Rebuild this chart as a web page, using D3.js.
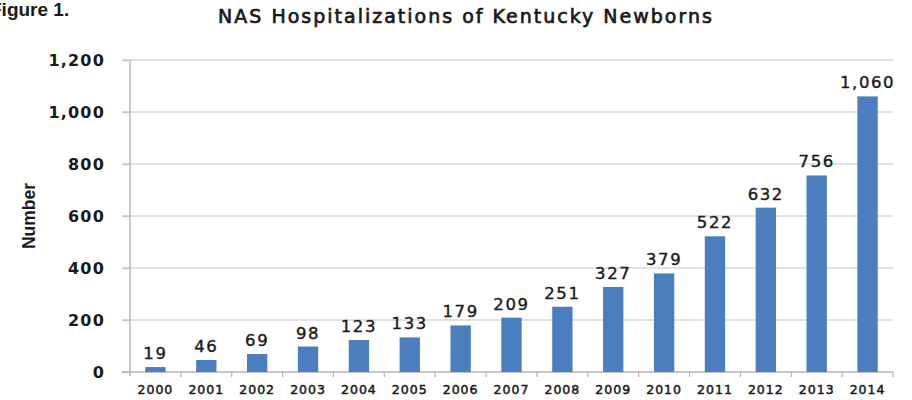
<!DOCTYPE html>
<html>
<head>
<meta charset="utf-8">
<script src="https://cdn.jsdelivr.net/npm/d3@7"></script>
<style>
  html, body { margin: 0; padding: 0; background: #fff; }
  svg { display: block; }
</style>
</head>
<body>
<svg id="chart" width="912" height="400"></svg>
<script>
// NAS hospitalizations of Kentucky newborns, by year
const years = ["2000","2001","2002","2003","2004","2005","2006","2007","2008","2009","2010","2011","2012","2013","2014"];
const hospitalizations = [19, 46, 69, 98, 123, 133, 179, 209, 251, 327, 379, 522, 632, 756, 1060];
const yTicks = [0, 200, 400, 600, 800, 1000, 1200];

const svg = d3.select("#chart");
const plot = { left: 130, right: 893, top: 60, bottom: 372 };

const x = d3.scaleBand()
  .domain(years)
  .range([plot.left, plot.right])
  .paddingInner(0.6)
  .paddingOuter(0.3);

const y = d3.scaleLinear()
  .domain([0, 1200])
  .range([plot.bottom, plot.top]);

const fmt = d3.format(",");
const textFont = "'DejaVu Sans', Verdana, sans-serif";
const narrowFont = "'Liberation Sans Narrow', 'Arial Narrow', sans-serif";
const ink = "#1a1a1a";

// Horizontal gridlines
svg.append("g")
  .selectAll("line")
  .data(yTicks.filter(d => d > 0))
  .join("line")
  .attr("x1", plot.left - 8)
  .attr("x2", plot.right)
  .attr("y1", d => y(d))
  .attr("y2", d => y(d))
  .attr("stroke", "#d9d9d9")
  .attr("stroke-width", 1.5);

// Y axis
const yAxis = svg.append("g")
  .attr("transform", `translate(${plot.left},0)`)
  .call(d3.axisLeft(y).tickValues(yTicks).tickFormat(fmt).tickSize(8).tickPadding(17));
yAxis.select(".domain").attr("stroke", "#a6a6a6").attr("stroke-width", 1.2)
  .attr("d", `M0,${plot.top}V${plot.bottom + 4}`);
yAxis.selectAll(".tick line").attr("stroke", "#c8c8c8").attr("stroke-width", 1.5);
yAxis.selectAll(".tick text")
  .attr("font-family", textFont)
  .attr("font-weight", "bold")
  .attr("font-size", 16)
  .attr("letter-spacing", 1.2)
  .attr("fill", ink)
  .attr("dy", "0.36em");

// X axis with tick marks on category boundaries
const xAxis = svg.append("g")
  .attr("transform", `translate(0,${plot.bottom})`);
xAxis.append("line")
  .attr("x1", plot.left - 8)
  .attr("x2", plot.right)
  .attr("stroke", "#b4b4b4")
  .attr("stroke-width", 1.5);
const boundaries = d3.range(1, years.length + 1)
  .map(i => plot.left + i * (plot.right - plot.left) / years.length);
xAxis.selectAll(".bt")
  .data(boundaries)
  .join("line")
  .attr("class", "bt")
  .attr("x1", d => d).attr("x2", d => d)
  .attr("y1", 0).attr("y2", 5)
  .attr("stroke", "#b4b4b4")
  .attr("stroke-width", 1.2);
xAxis.selectAll(".xl")
  .data(years)
  .join("text")
  .attr("class", "xl")
  .attr("x", d => x(d) + x.bandwidth() / 2)
  .attr("y", 22)
  .attr("text-anchor", "middle")
  .attr("font-family", textFont)
  .attr("font-size", 12.5)
  .attr("letter-spacing", 1)
  .attr("fill", ink)
  .attr("stroke", ink)
  .attr("stroke-width", 0.5)
  .text(d => d);

const rows = years.map((yr, i) => ({ yr, v: hospitalizations[i] }));

// Bars
svg.append("g")
  .selectAll("rect")
  .data(rows)
  .join("rect")
  .attr("x", d => x(d.yr))
  .attr("width", x.bandwidth())
  .attr("y", d => y(d.v))
  .attr("height", d => y(0) - y(d.v))
  .attr("fill", "#4a7ebf");

// Value labels
svg.append("g")
  .selectAll("text")
  .data(rows)
  .join("text")
  .attr("x", d => x(d.yr) + x.bandwidth() / 2)
  .attr("y", d => y(d.v) - 8)
  .attr("text-anchor", "middle")
  .attr("font-family", textFont)
  .attr("font-size", 16.5)
  .attr("letter-spacing", 1.6)
  .attr("fill", ink)
  .attr("stroke", ink)
  .attr("stroke-width", 0.4)
  .text(d => fmt(d.v));

// Title
svg.append("text")
  .attr("x", 466)
  .attr("y", 23)
  .attr("text-anchor", "middle")
  .attr("font-family", textFont)
  .attr("font-size", 19)
  .attr("letter-spacing", 2)
  .attr("fill", ink)
  .attr("stroke", ink)
  .attr("stroke-width", 0.7)
  .text("NAS Hospitalizations of Kentucky Newborns");

// Figure label, running off the left edge of the page
svg.append("text")
  .attr("x", -10)
  .attr("y", 16)
  .attr("font-family", narrowFont)
  .attr("font-weight", "bold")
  .attr("font-size", 19)
  .attr("fill", ink)
  .text("Figure 1.");

// Y-axis title
svg.append("text")
  .attr("transform", "translate(35,216) rotate(-90)")
  .attr("text-anchor", "middle")
  .attr("font-family", narrowFont)
  .attr("font-weight", "bold")
  .attr("font-size", 17.5)
  .attr("fill", ink)
  .text("Number");
</script>
</body>
</html>
